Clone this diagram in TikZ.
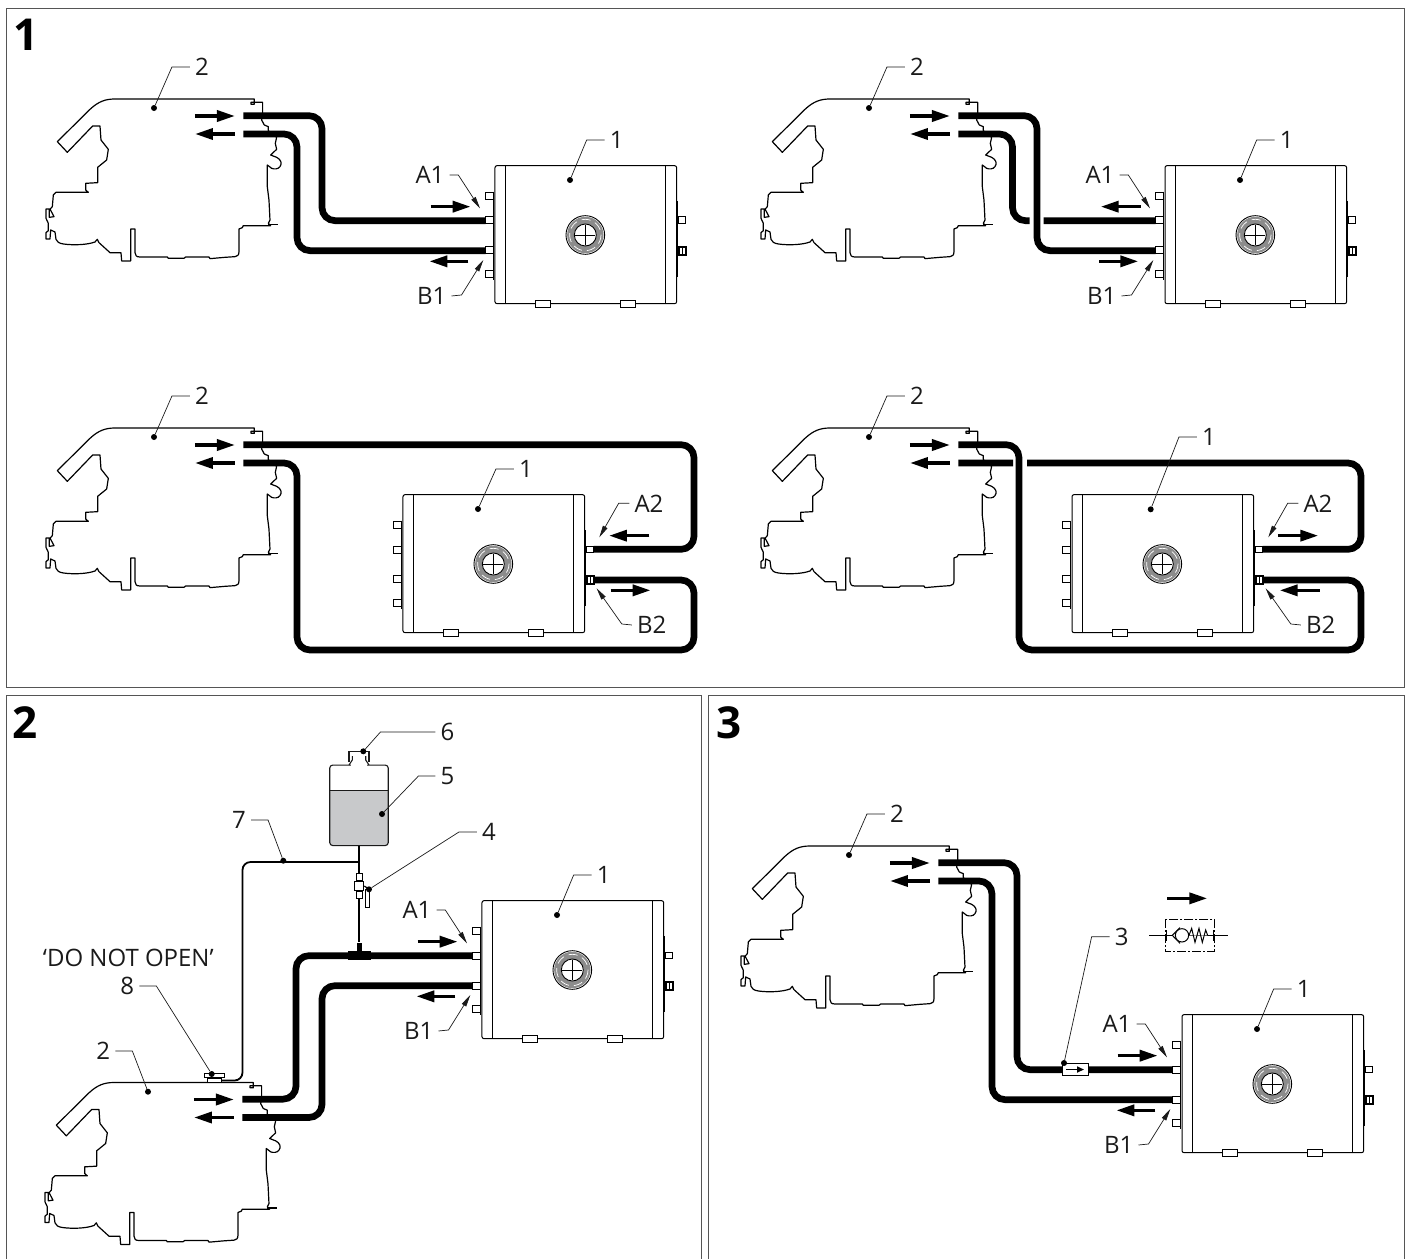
\documentclass[tikz,border=0pt]{standalone}
\usepackage{fontspec}
\setmainfont{Open Sans}
\usetikzlibrary{arrows.meta}
\definecolor{ink}{HTML}{1A1A1A}
\definecolor{framegrey}{HTML}{555555}
\definecolor{liquid}{HTML}{C8C9CB}
\definecolor{ringgrey}{HTML}{8C8C8C}
\tikzset{
	thirds/.style={x=.3333pt,y=-.3333pt},
	frame/.style={draw=framegrey,line width=1pt},
	title/.style={font=\fontsize{44}{44}\selectfont\bfseries,inner sep=0pt},
	num/.style={font=\fontsize{24}{24}\selectfont,inner sep=5pt,text=ink},
	blob/.style={circle,fill=black,inner sep=0pt,minimum size=6pt},
	lead/.style={draw=ink,line width=.7pt},
	leadtip/.style={lead,-{Triangle[length=12pt,width=5pt]}},
	pipe/.style={draw=black,line width=6.7pt,rounded corners=13pt},
	hose/.style={draw=black,line width=1.8pt,rounded corners=8pt},
	flow/.style={draw=black,line width=3.5pt,-{Triangle[length=18pt,width=11pt]}},
	part/.style={draw=black,line width=1pt,fill=white},
	engine/.pic={
		\begin{scope}[thirds]
			\draw[black,line width=1.2pt,line join=round] (112,245)--(210,148) .. controls (235,125) and (255,117) .. (285,117)
				--(703,117)--(703,127)--(693,127)--(693,133)--(703,133)--(703,127)--(728,127)--(728,165)--(725,180)--(733,195)
				--(745,200)--(745,212)--(770,232)--(766,250)--(770,268)--(752,285)--(770,292) .. controls (782,298) and (788,310) .. (780,320)
				.. controls (775,328) and (762,328) .. (755,325)--(742,315)--(742,380)--(747,420)--(750,480)--(745,490)--(752,497)
				--(670,497)--(667,503)--(657,507)--(657,575) .. controls (657,585) and (652,590) .. (645,590)--(615,592)--(570,596)
				--(567,591)--(497,591)--(492,595)--(445,595)--(442,591)--(360,591) .. controls (350,591) and (345,587) .. (345,578)
				--(345,507)--(332,507)--(332,603)--(305,603)--(303,578)--(270,578)--(237,548)--(232,538)--(225,546)
				.. controls (200,555) and (160,556) .. (130,552) .. controls (118,550) and (110,546) .. (108,538)--(105,516)--(92,510)
				--(90,537)--(78,537)--(78,518)--(85,512)--(85,490)--(78,475)--(78,447)--(90,447)--(102,470)--(88,472)--(88,450)--(97,440)
				--(100,405)--(108,397)--(205,397)--(197,390)--(197,370)--(233,368)--(233,322)--(260,300)--(265,268)--(243,240)
				--(240,198)--(218,198)--(142,277)--cycle;
			\draw[black,line width=1.6pt] (745,494)--(775,494);
			\coordinate (-s) at (670,167);
			\coordinate (-r) at (670,222);
			\coordinate (-fa) at (525,168);
			\coordinate (-fb) at (645,168);
			\coordinate (-ra) at (645,222);
			\coordinate (-rb) at (525,222);
		\end{scope}
	},
	cooler/.pic={
		\begin{scope}[thirds]
			\foreach \y in {218,291,381,451}
				\draw[part] (257,\y) rectangle ++(23,21);
			\draw[part] (835,291) rectangle ++(22,20);
			\draw[black,line width=2pt,fill=white] (836,381) rectangle (859,406);
			\draw[black,line width=1.6pt] (847,381)--(847,406);
			\draw[black,line width=1pt] (281,215)--(281,480);
			\draw[black,line width=2pt] (832,243)--(832,470);
			\draw[part,rounded corners=2pt] (285,137) rectangle (830,551);
			\draw[part] (407,541) rectangle ++(44,22);
			\draw[part] (663,541) rectangle ++(44,22);
			\draw[black,line width=1pt] (317,137)--(317,551);
			\draw[black,line width=1pt] (797,137)--(797,551);
			\draw[black,line width=.9pt] (556,345) circle (58);
			\draw[ringgrey,line width=7pt] (556,345) circle (44);
			\draw[white,line width=.7pt,dash pattern=on 9pt off 5pt] (556,345) circle (47);
			\draw[black,line width=.9pt] (556,345) circle (33);
			\draw[black,line width=.9pt] (526,345)--(586,345) (556,315)--(556,375);
			\coordinate (-p) at (257,302);
			\coordinate (-q) at (257,392);
			\coordinate (-u) at (857,301);
			\coordinate (-v) at (857,393);
		\end{scope}
	},
	portsl/.pic={
		\begin{scope}[thirds]
			\node[num] (-a) at (90,165) {A1};
			\node[num] (-b) at (95,528) {B1};
			\coordinate (-ta) at (240,265);
			\coordinate (-tb) at (250,420);
			\draw[leadtip] (-a.east) -- ++(26,0) -- (-ta);
			\draw[leadtip] (-b.east) -- ++(30,-3) -- (-tb);
			\coordinate (-al) at (92,260);
			\coordinate (-ar) at (212,260);
			\coordinate (-bl) at (88,424);
			\coordinate (-br) at (205,424);
		\end{scope}
	},
	portsr/.pic={
		\begin{scope}[thirds]
			\node[num] (-a) at (1023,163) {A2};
			\node[num] (-b) at (1031,528) {B2};
			\coordinate (-ta) at (874,265);
			\coordinate (-tb) at (866,418);
			\draw[leadtip] (-a.west) -- ++(-32,0) -- (-ta);
			\draw[leadtip] (-b.west) -- ++(-30,-3) -- (-tb);
			\coordinate (-al) at (903,260);
			\coordinate (-ar) at (1024,260);
			\coordinate (-bl) at (908,424);
			\coordinate (-br) at (1028,424);
		\end{scope}
	},
	nrvsym/.pic={
		\begin{scope}[thirds]
			\draw[black,line width=.9pt] (327,166)--(563,166) (380,150)--(380,182) (520,150)--(520,182);
			\draw[black,line width=.9pt,dash pattern=on 9pt off 2pt on 2pt off 2pt] (375,117) rectangle (522,215);
			\draw[black,line width=1pt,fill=white] (420,143)--(397,166)--(420,190);
			\draw[black,line width=1pt,fill=white] (426,166) circle (20);
			\draw[black,line width=1pt,fill=white] (447,166)--(455,145)--(465,187)--(477,145)--(487,187)--(497,150)--(503,166);
			\coordinate (-a) at (382,55);
			\coordinate (-b) at (502,55);
		\end{scope}
	}
}

\begin{document}
\begin{tikzpicture}[x=1pt,y=-1pt]
	\useasboundingbox (0,0) rectangle (1410,1259);
	\draw[frame] (6,8) rectangle (1404,687);
	\draw[frame] (6,1259) |- (701,695.5) -- (701,1259);
	\draw[frame] (708,1259) |- (1404,695.5) -- (1404,1259);
	\node[title] (t1) at (26,35) {1};
	\node[title] (t2) at (25.5,723) {2};
	\node[title] (t3) at (729,723) {3};

	% engines
	\foreach \e/\x/\y in {ea/20/60,eb/735/60,ec/20/389,ed/735/389,ef/19/1043.5,eg/715/807}{
		\pic (\e) at (\x,\y) {engine};
		\draw[flow] (\e-fa) -- (\e-fb);
		\draw[flow] (\e-ra) -- (\e-rb);
	}
	\foreach \e/\x/\y/\u/\v in {ea/202/67/154/108,eb/917/67/869/108,ec/202/396/154/437,ed/917/396/869/437,eg/897/814/849/855}{
		\node[num] (\e lab) at (\x,\y) {2};
		\node[blob] (\e dot) at (\u,\v) {};
		\draw[lead] (\e lab.west) -- ++(-18,0) -- (\e dot);
	}
	\node[num] (eflab) at (103.3,1051) {2};
	\node[blob] (efdot) at (148,1091.7) {};
	\draw[lead] (eflab.east) -- ++(17,0) -- (efdot);

	% coolers
	\foreach \c/\x/\y in {ca/400/120,cb/1070/120,cc/308/449,cd/977/449,cf/387/855,cg/1087/969}
		\pic (\c) at (\x,\y) {cooler};
	\foreach \c/\x/\y in {ca/400/120,cb/1070/120,cf/387/855,cg/1087/969}
		\pic (\c l) at (\x,\y) {portsl};
	\foreach \c/\x/\y in {cc/308/449,cd/977/449}
		\pic (\c r) at (\x,\y) {portsr};

	% top left
	\draw[pipe] (ea-s) -| (322,170) |- (ca-p);
	\draw[pipe] (ea-r) -| (297,190) |- (ca-q);
	\draw[flow] (cal-al) -- (cal-ar);
	\draw[flow] (cal-br) -- (cal-bl);

	% top right, lines crossed
	\coordinate (gapa) at (1029.5,220.67);
	\coordinate (gapb) at (1043.5,220.67);
	\draw[pipe] (eb-s) -| (1037,170) |- (cb-q);
	\draw[pipe] (eb-r) -| (1012.5,170) |- (gapa);
	\draw[pipe] (gapb) -- (cb-p);
	\draw[flow] (cbl-ar) -- (cbl-al);
	\draw[flow] (cbl-bl) -- (cbl-br);

	% lower left
	\draw[pipe] (ec-s) -| (694,500) |- (cc-u);
	\draw[pipe] (ec-r) -| (297,550) |- (694,650) |- (cc-v);
	\draw[flow] (ccr-ar) -- (ccr-al);
	\draw[flow] (ccr-bl) -- (ccr-br);

	% lower right, lines crossed
	\coordinate (gapc) at (1013,463);
	\coordinate (gapd) at (1027,463);
	\draw[pipe] (ed-s) -| (1019,550) |- (1361,650) |- (cd-v);
	\draw[pipe] (ed-r) -- (gapc);
	\draw[pipe] (gapd) -| (1361,500) |- (cd-u);
	\draw[flow] (cdr-al) -- (cdr-ar);
	\draw[flow] (cdr-br) -- (cdr-bl);

	% labels of the coolers
	\foreach \c/\x/\y/\u/\v in {ca/616.7/140/570/180,cb/1286.7/140/1240/180,cc/526/469/478/509,cd/1209/437/1150.7/509.3,cf/603.7/875/557/915,cg/1303.7/989/1257/1029}{
		\node[num] (\c lab) at (\x,\y) {1};
		\node[blob] (\c dot) at (\u,\v) {};
		\draw[lead] (\c lab.west) -- ++(-18,0) -- (\c dot);
	}

	% panel 2
	\draw[pipe] (cf-p) -| (296,1030) |- (ef-s);
	\draw[pipe] (cf-q) -| (322,1050) |- (ef-r);
	\draw[flow] (cfl-al) -- (cfl-ar);
	\draw[flow] (cfl-br) -- (cfl-bl);
	\node[draw=black,fill=black,minimum width=22pt,minimum height=8pt,inner sep=0pt] (tee) at (359,955) {};
	\node[fill=black,minimum width=5pt,minimum height=8pt,inner sep=0pt,anchor=south] (teeup) at (tee.north) {};
	\fill[liquid,rounded corners=2pt] (330,790) rectangle (388,845.5);
	\node[draw=ink,line width=1.1pt,rounded corners=3pt,minimum width=58.5pt,minimum height=80.5pt,inner sep=0pt] (tank) at (359,805.3) {};
	\draw[ink,line width=.7pt] (330,790) -- (388,790);
	\draw[white,line width=2pt] (351,765) -- (367,765);
	\draw[ink,line width=1.1pt] (349,762) -- (349,751.7) -- (369,751.7) -- (369,762);
	\draw[ink,line width=1.1pt] (349,765) -- (352.3,760) -- (352.3,756) (369,765) -- (365.7,760) -- (365.7,756);
	\coordinate (junc) at (359,862);
	\node[part,minimum width=9.5pt,minimum height=9.5pt,inner sep=0pt] (valve) at (359,886) {};
	\node[part,minimum width=6pt,minimum height=7pt,inner sep=0pt,anchor=south] (valup) at (valve.north) {};
	\node[part,minimum width=6pt,minimum height=7pt,inner sep=0pt,anchor=north] (valdn) at (valve.south) {};
	\draw[black,line width=1.2pt] (valve.east) -- ++(3,2) -- ++(0,5);
	\node[part,minimum width=3.5pt,minimum height=18pt,inner sep=0pt,anchor=north] (handle) at (367.5,889) {};
	\draw[hose] (tank.south) -- (valup.north);
	\draw[hose] (valdn.south) -- (teeup.north);
	\node[part,minimum width=20pt,minimum height=3.5pt,inner sep=0pt] (flange) at (214,1075.5) {};
	\node[part,minimum width=14pt,minimum height=4.5pt,inner sep=0pt,anchor=north] (filler) at (flange.south) {};
	\draw[hose] (junc) -| (242.5,1000) |- (filler.east);
	\node[blob] (d4) at (369,889.3) {};
	\node[blob] (d5) at (382,814) {};
	\node[blob] (d6) at (363.3,751.3) {};
	\node[blob] (d7) at (283.3,860.7) {};
	\node[blob] (d8) at (211.7,1074) {};
	\node[num] (n4) at (489,832) {4};
	\node[num] (n5) at (447.5,776) {5};
	\node[num] (n6) at (447.5,732) {6};
	\node[num] (n7) at (239,820) {7};
	\node[num] (n8) at (127.3,986) {8};
	\draw[lead] (n4.west) -- ++(-18,0) -- (d4);
	\draw[lead] (n5.west) -- ++(-17,0) -- (d5);
	\draw[lead] (n6.west) -- ++(-55,0) -- (d6);
	\draw[lead] (n7.east) -- ++(17,0) -- (d7);
	\draw[lead] (n8.east) -- ++(17,0) -- (d8);
	\node[num] (warn) at (128.3,958.3) {‘DO NOT OPEN’};

	% panel 3
	\draw[pipe] (eg-s) -| (1017,960) |- (cg-p);
	\draw[pipe] (eg-r) -| (992,990) |- (cg-q);
	\draw[flow] (cgl-al) -- (cgl-ar);
	\draw[flow] (cgl-br) -- (cgl-bl);
	\node[part,minimum width=26pt,minimum height=12pt,inner sep=0pt] (nrv) at (1075.5,1069.5) {};
	\draw[black,line width=1.6pt,-{Triangle[length=7pt,width=6pt]}] ([xshift=4pt]nrv.west) -- ([xshift=-5pt]nrv.east);
	\node[blob] (d3) at (1064,1063) {};
	\node[num] (n3) at (1121.7,936.7) {3};
	\draw[lead] (n3.west) -- ++(-18,0) -- (d3);
	\pic (sym) at (1040,880) {nrvsym};
	\draw[flow] (sym-a) -- (sym-b);
\end{tikzpicture}
\end{document}
